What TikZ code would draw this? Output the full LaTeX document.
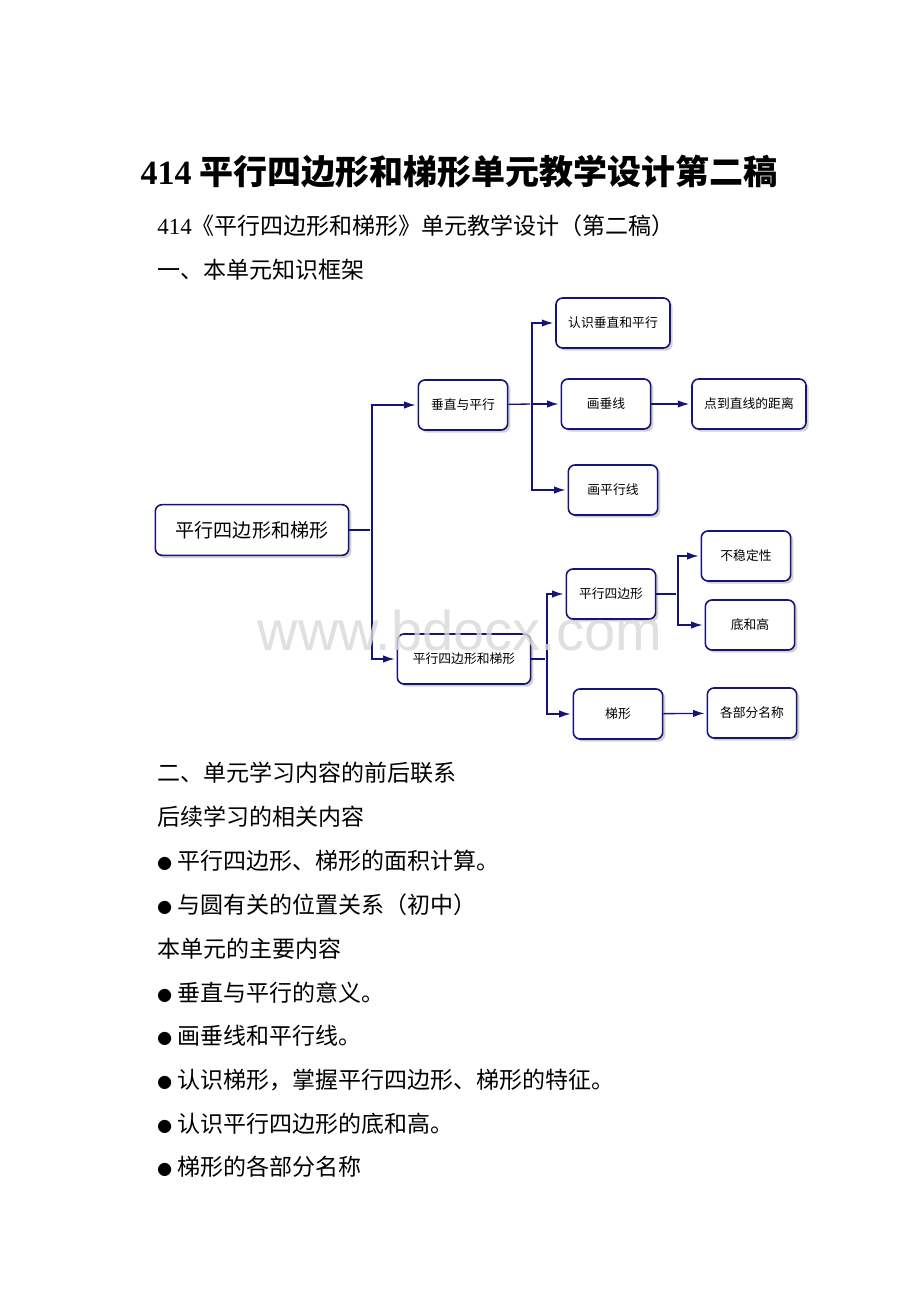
\documentclass[tikz,border=0pt]{standalone}
\usepackage{fontspec}
\setmainfont{Noto Sans CJK SC}
\newfontfamily\latinfont{Liberation Serif}
\newfontfamily\wmfont{Liberation Sans}
\usetikzlibrary{arrows.meta, positioning, shadows}
\definecolor{navy}{HTML}{14147A}

\begin{document}
\begin{tikzpicture}[
    x=0.75pt, y=-0.75pt,
    >={Latex[length=8.5pt,width=5.5pt]},
    box/.style={draw=navy, line width=1.2pt, rounded corners=5pt, fill=white,
        drop shadow={shadow xshift=2pt, shadow yshift=-2pt, fill=black!35},
        minimum width=67pt, minimum height=37.5pt, inner sep=2pt,
        font=\fontsize{9.6}{11}\selectfont},
    link/.style={draw=navy, line width=1pt, shorten >=1.5pt},
    para/.style={anchor=west, inner sep=0pt, font=\fontsize{17.25}{20}\selectfont},
]

    \fill[white] (0,0) rectangle (920,1302);

    % page text
    \node[font=\fontsize{25.5}{28}\selectfont\bfseries] (title) at (459,172)
        {{\latinfont\bfseries 414} 平行四边形和梯形单元教学设计第二稿};
    \node[para] (sub)   at (157,226) {{\latinfont 414}《平行四边形和梯形》单元教学设计（第二稿）};
    \node[para] (part1) at (157,270) {一、本单元知识框架};

    % diagram
    \node[box, minimum width=145pt, minimum height=38pt,
          font=\fontsize{14.3}{16}\selectfont]        (root) at (252,530) {平行四边形和梯形};
    \node[box]                                         (cz)   at (463,405) {垂直与平行};
    \node[box, minimum width=85.5pt]                   (rs)   at (613,323) {认识垂直和平行};
    \node[box]                                         (hc)   at (606,404) {画垂线};
    \node[box, minimum width=85.5pt]                   (jl)   at (749,404) {点到直线的距离};
    \node[box]                                         (hp)   at (613,490) {画平行线};
    \node[box, minimum width=100pt]                    (pt)   at (464,659) {平行四边形和梯形};
    \node[box]                                         (pb)   at (611,594) {平行四边形};
    \node[box]                                         (bw)   at (746,556) {不稳定性};
    \node[box]                                         (dg)   at (750,625) {底和高};
    \node[box]                                         (tx)   at (618,714) {梯形};
    \node[box]                                         (mc)   at (752,713) {各部分名称};

    \coordinate (j1) at (372,530);
    \coordinate (j2) at (532,404);
    \coordinate (j3) at (547,659);
    \coordinate (j4) at (678,594);

    \draw[link]     (root) -- (j1);
    \draw[link, ->] (j1) |- (cz);
    \draw[link, ->] (j1) |- (pt);
    \draw[link]     (cz) -- (j2);
    \draw[link, ->] (j2) |- (rs);
    \draw[link, ->] (j2) -- (hc);
    \draw[link, ->] (j2) |- (hp);
    \draw[link, ->] (hc) -- (jl);
    \draw[link]     (pt) -- (j3);
    \draw[link, ->] (j3) |- (pb);
    \draw[link, ->] (j3) |- (tx);
    \draw[link]     (pb) -- (j4);
    \draw[link, ->] (j4) |- (bw);
    \draw[link, ->] (j4) |- (dg);
    \draw[link, ->] (tx) -- (mc);

    % page text below
    \node[para] (part2) at (157,773)  {二、单元学习内容的前后联系};
    \node[para] (next)  at (157,817)  {后续学习的相关内容};
    \node[para] (n1)    at (157,861)  {\makebox[15pt][l]{\fontsize{11}{11}\selectfont ●}平行四边形、梯形的面积计算。};
    \node[para] (n2)    at (157,905)  {\makebox[15pt][l]{\fontsize{11}{11}\selectfont ●}与圆有关的位置关系（初中）};
    \node[para] (main)  at (157,949)  {本单元的主要内容};
    \node[para] (m1)    at (157,993)  {\makebox[15pt][l]{\fontsize{11}{11}\selectfont ●}垂直与平行的意义。};
    \node[para] (m2)    at (157,1036) {\makebox[15pt][l]{\fontsize{11}{11}\selectfont ●}画垂线和平行线。};
    \node[para] (m3)    at (157,1080) {\makebox[15pt][l]{\fontsize{11}{11}\selectfont ●}认识梯形，掌握平行四边形、梯形的特征。};
    \node[para] (m4)    at (157,1124) {\makebox[15pt][l]{\fontsize{11}{11}\selectfont ●}认识平行四边形的底和高。};
    \node[para] (m5)    at (157,1167) {\makebox[15pt][l]{\fontsize{11}{11}\selectfont ●}梯形的各部分名称};

    % watermark
    \node[text=black!15, opacity=0.8, inner sep=0pt,
          font=\wmfont\fontsize{42}{42}\selectfont] (wm) at (460,630) {www.bdocx.com};
\end{tikzpicture}
\end{document}
